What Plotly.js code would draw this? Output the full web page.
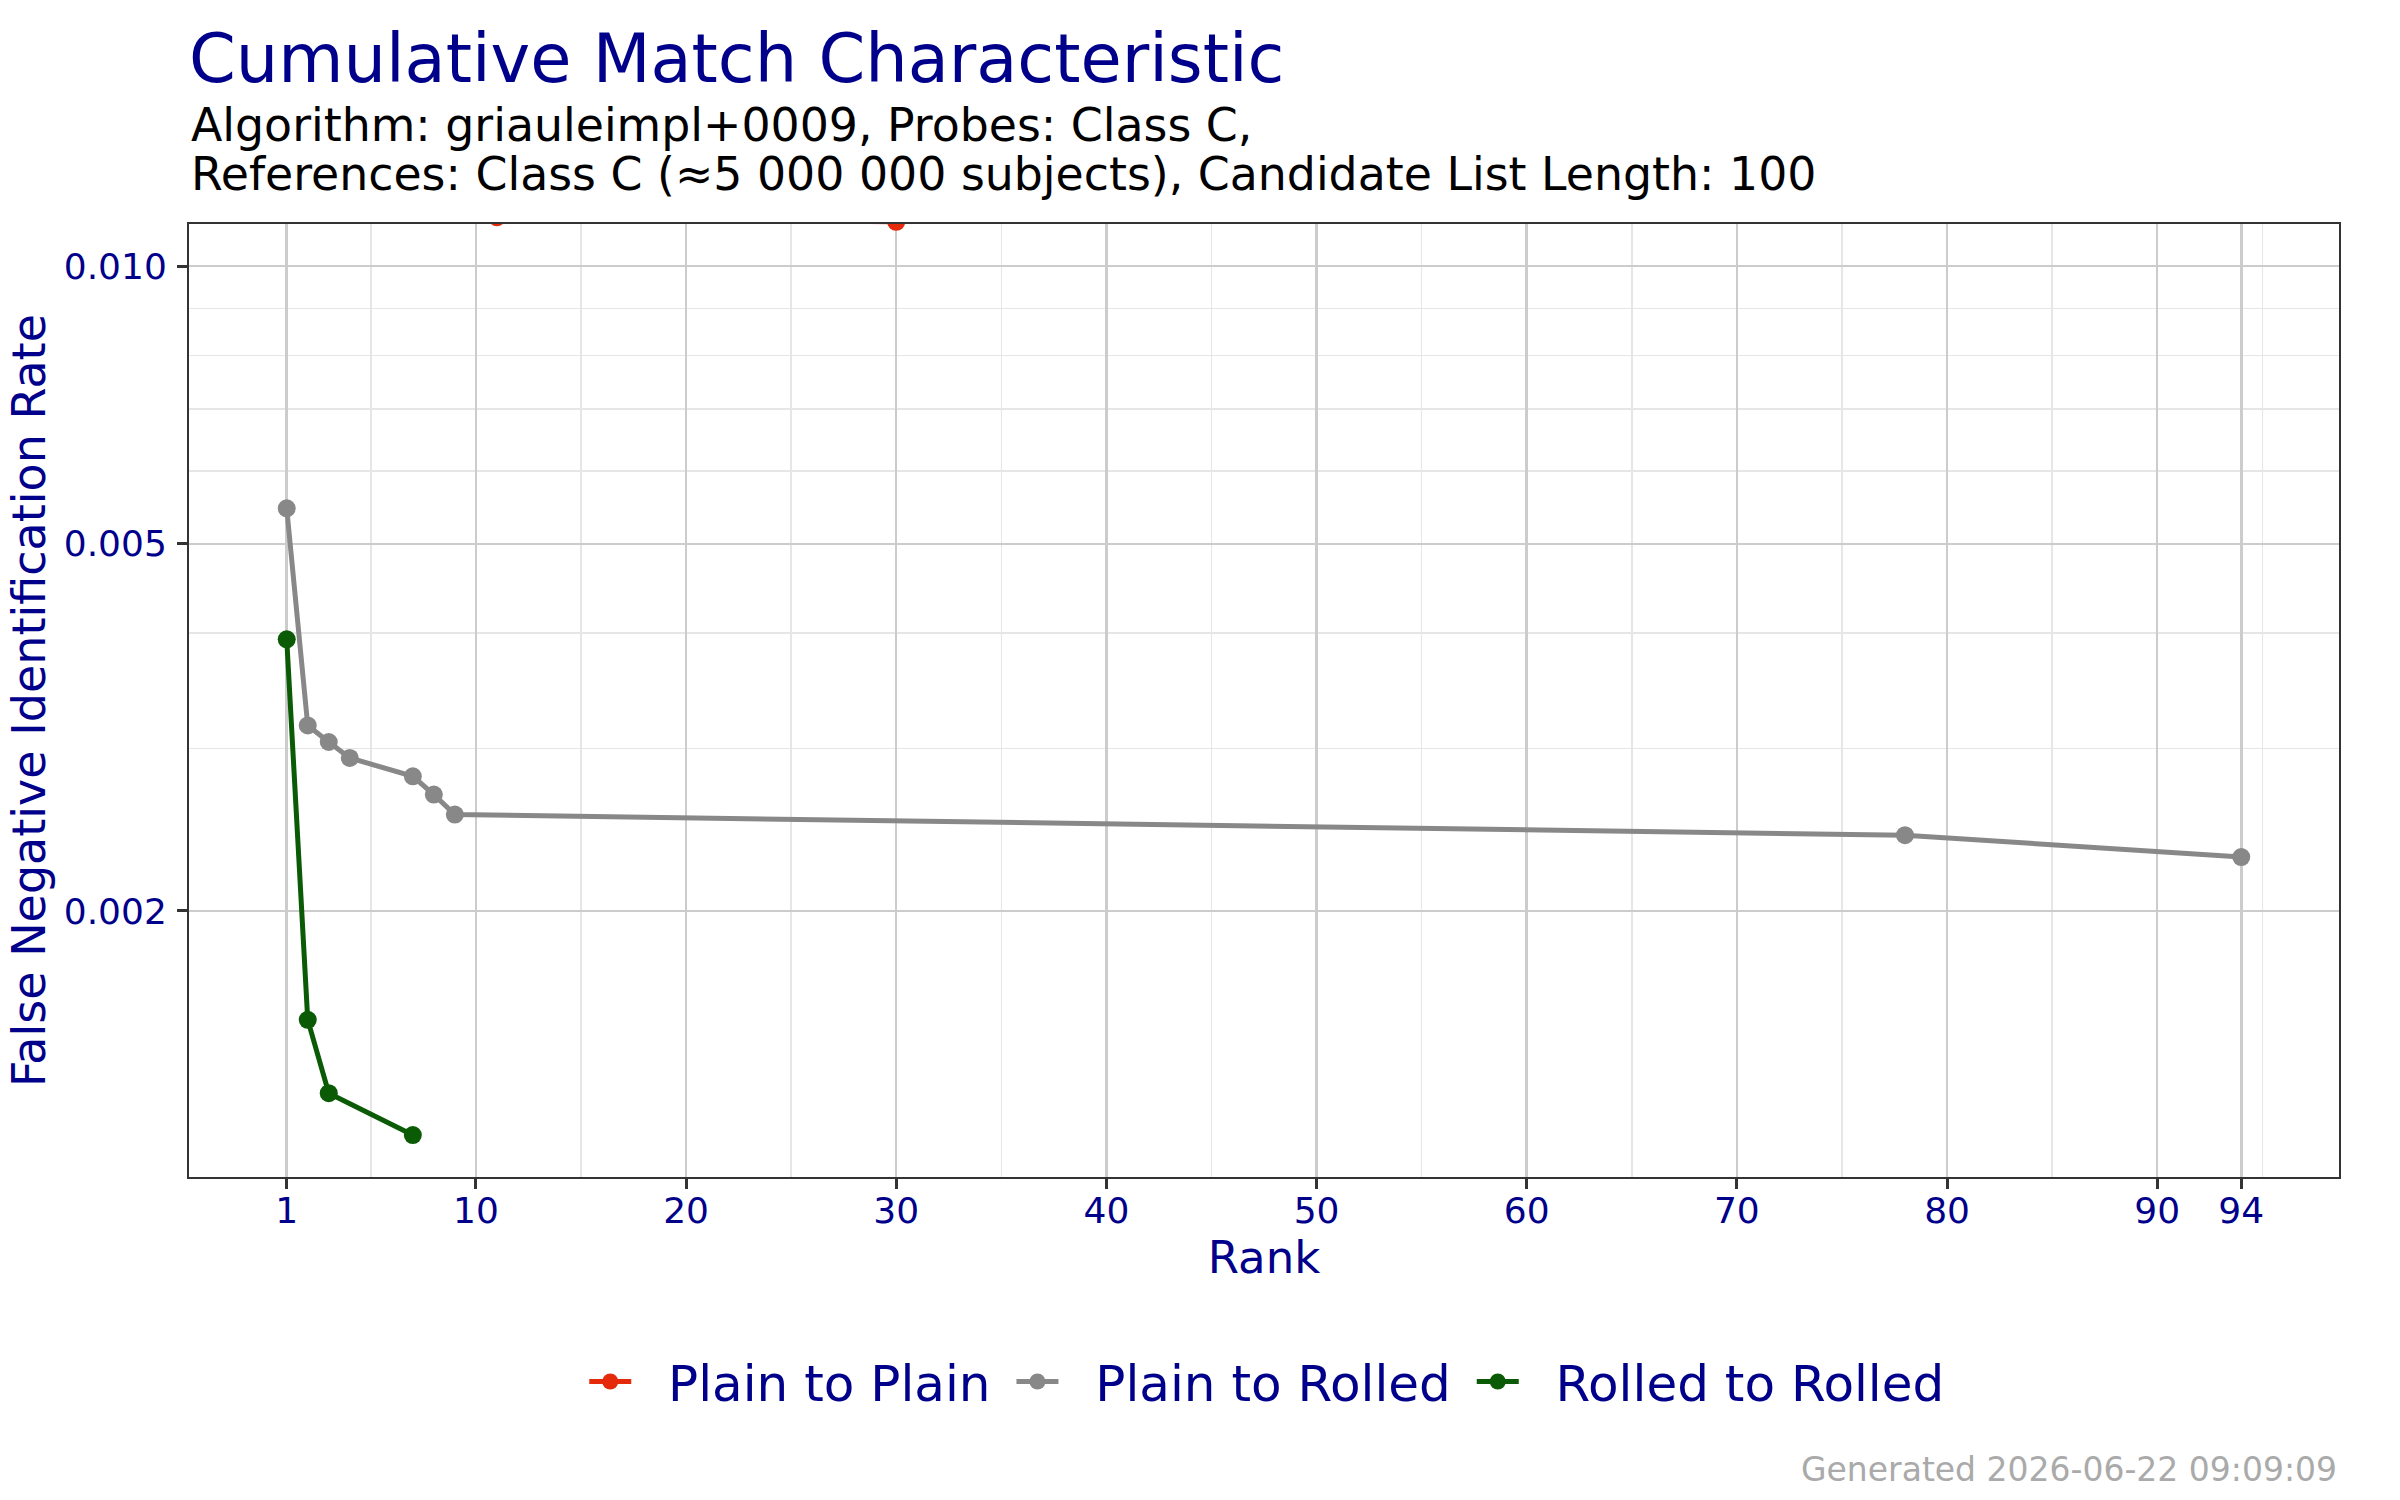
<!DOCTYPE html>
<html>
<head>
<meta charset="utf-8">
<script src="https://cdn.plot.ly/plotly-3.0.1.min.js"></script>
<style>html,body{margin:0;padding:0;background:#fff;}#chart{width:2400px;height:1500px;}</style>
</head>
<body>
<div id="chart"></div>
<script>
// Data
const seriesNames = ["Plain to Plain", "Plain to Rolled", "Rolled to Rolled"];
const rankPlainPlain = [11, 30];
const fnirPlainPlain = [0.0113, 0.01117];
const rankPlainRolled = [1, 2, 3, 4, 7, 8, 9, 78, 94];
const fnirPlainRolled = [0.005463, 0.003178, 0.003049, 0.002930, 0.002799, 0.002674, 0.002544, 0.002416, 0.002288];
const rankRolledRolled = [1, 2, 3, 7];
const fnirRolledRolled = [0.003940, 0.001524, 0.001269, 0.001143];
const xTickVals = [1, 10, 20, 30, 40, 50, 60, 70, 80, 90, 94];
const yTickVals = [0.002, 0.005, 0.010];
const yTickText = ["0.002", "0.005", "0.010"];
const yMinorVals = [0.003, 0.004, 0.006, 0.007, 0.008, 0.009];

const FONT = "DejaVu Sans";
const NAVY = "#00008b";
const colors = ["#e52a0c", "#888888", "#0b5a05"];
const NB = "\u00a0";

function mk(name, x, y, color) {
  return {
    type: "scatter", mode: "lines+markers", name: NB + NB + name + NB, x: x, y: y,
    line: {color: color, width: 5},
    marker: {color: color, size: 18},
    cliponaxis: true
  };
}

const data = [
  mk(seriesNames[0], rankPlainPlain, fnirPlainPlain, colors[0]),
  mk(seriesNames[1], rankPlainRolled, fnirPlainRolled, colors[1]),
  mk(seriesNames[2], rankRolledRolled, fnirRolledRolled, colors[2])
];

const axisCommon = {
  showline: true, mirror: true, linecolor: "#333333", linewidth: 2,
  ticks: "outside", ticklen: 10, tickwidth: 3, tickcolor: "#333333",
  showgrid: true, gridcolor: "#cccccc", gridwidth: 2.5,
  zeroline: false,
  tickfont: {family: FONT, size: 36, color: NAVY}
};

const layout = {
  width: 2400, height: 1500,
  paper_bgcolor: "#ffffff", plot_bgcolor: "#ffffff",
  margin: {l: 189, r: 61, t: 224, b: 323, autoexpand: false},
  font: {family: FONT},
  title: {
    text: "Cumulative Match Characteristic",
    font: {family: FONT, size: 67, color: NAVY},
    x: 0, xref: "paper", xanchor: "left",
    y: 0.9613, yref: "container", yanchor: "middle"
  },
  xaxis: Object.assign({}, axisCommon, {
    range: [-3.65, 98.65],
    tickmode: "array", tickvals: xTickVals,
    ticklabelstandoff: -9,
    minor: {tickmode: "linear", tick0: 5, dtick: 10, showgrid: true, gridcolor: "#e6e6e6", gridwidth: 1.5, ticks: ""},
    title: {text: "Rank", font: {family: FONT, size: 45, color: NAVY}, standoff: 5}
  }),
  yaxis: Object.assign({}, axisCommon, {
    type: "log",
    range: [-2.9874, -1.9543],
    tickmode: "array", tickvals: yTickVals, ticktext: yTickText,
    ticklabelstandoff: 3,
    minor: {tickmode: "array", tickvals: yMinorVals, showgrid: true, gridcolor: "#e6e6e6", gridwidth: 1.5, ticks: ""},
    title: {text: "False Negative Identification Rate", font: {family: FONT, size: 46, color: NAVY}, standoff: 4}
  }),
  showlegend: true,
  legend: {
    orientation: "h", x: 0.505, xanchor: "center", xref: "paper",
    y: -0.2146, yanchor: "middle", yref: "paper",
    font: {family: FONT, size: 50, color: NAVY},
    itemwidth: 42,
    bgcolor: "rgba(0,0,0,0)"
  },
  annotations: [
    {text: "Algorithm: griauleimpl+0009, Probes: Class C,", xref: "paper", yref: "paper",
     x: 0, y: 1.1036, xanchor: "left", yanchor: "middle", showarrow: false,
     font: {family: FONT, size: 45.8, color: "#000000"}},
    {text: "References: Class C (≈5 000 000 subjects), Candidate List Length: 100", xref: "paper", yref: "paper",
     x: 0, y: 1.0522, xanchor: "left", yanchor: "middle", showarrow: false,
     font: {family: FONT, size: 45.8, color: "#000000"}},
    {text: "Generated 2026-06-22 09:09:09", xref: "paper", yref: "paper",
     x: 1, y: -0.3066, xanchor: "right", yanchor: "middle", showarrow: false,
     font: {family: FONT, size: 33, color: "#aaaaaa"}}
  ]
};

Plotly.newPlot("chart", data, layout, {staticPlot: true, displayModeBar: false});
</script>
</body>
</html>
